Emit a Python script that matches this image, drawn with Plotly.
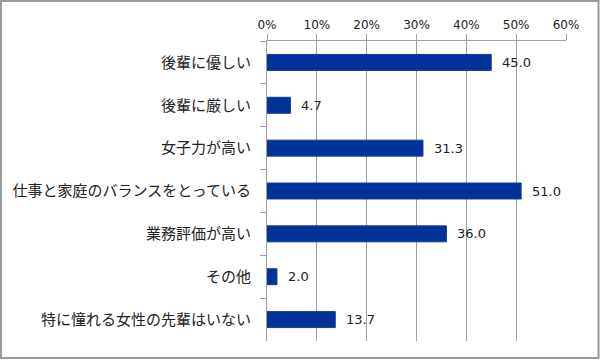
import plotly.graph_objects as go

categories = [
    "後輩に優しい",
    "後輩に厳しい",
    "女子力が高い",
    "仕事と家庭のバランスをとっている",
    "業務評価が高い",
    "その他",
    "特に憧れる女性の先輩はいない",
]
values = [45.0, 4.7, 31.3, 51.0, 36.0, 2.0, 13.7]
tick_values = [0, 10, 20, 30, 40, 50, 60]
tick_labels = ["0%", "10%", "20%", "30%", "40%", "50%", "60%"]

W, H = 600, 360
ML, MR, MT, MB = 267, 34, 41, 19
GRID = "#a0a0a0"
BAR = "#003399"

fig = go.Figure()
fig.add_trace(go.Bar(
    x=values, y=categories, orientation="h",
    marker=dict(color=BAR, line=dict(color="#1a3a9a", width=1)),
    hoverinfo="skip",
))

for c, v in zip(categories, values):
    fig.add_annotation(
        x=v, y=c, text=f"{v:.1f}", showarrow=False,
        xanchor="left", yanchor="middle", xshift=9,
        font=dict(family="DejaVu Sans", size=13, color="#222222"),
    )

pw = W - ML - MR
ph = H - MT - MB
fig.add_shape(
    type="rect", xref="paper", yref="paper",
    x0=(-ML + 1) / pw, x1=(pw + MR - 1.5) / pw,
    y0=(-MB + 2) / ph, y1=(ph + MT - 1) / ph,
    line=dict(color="#9a9a9a", width=2), fillcolor="rgba(0,0,0,0)", layer="below",
)

fig.update_layout(
    template="none",
    width=W, height=H,
    margin=dict(l=ML, r=MR, t=MT, b=MB, pad=0, autoexpand=False),
    paper_bgcolor="white", plot_bgcolor="white",
    bargap=0.627,
    showlegend=False,
    xaxis=dict(
        side="top", range=[0, 60], tickvals=tick_values, ticktext=tick_labels,
        showgrid=True, gridcolor=GRID, gridwidth=1,
        showline=True, linecolor=GRID, linewidth=1,
        ticks="outside", ticklen=6, tickcolor=GRID,
        tickfont=dict(family="DejaVu Sans", size=12, color="#222222"),
        zeroline=False, fixedrange=True, automargin=False,
    ),
    yaxis=dict(
        autorange="reversed", tickson="boundaries",
        showline=True, linecolor=GRID, linewidth=1,
        ticks="outside", ticklen=6, tickcolor=GRID,
        ticklabelstandoff=12,
        tickfont=dict(family="Noto Sans CJK JP", size=15, color="#222222"),
        showgrid=False, zeroline=False, fixedrange=True, automargin=False,
    ),
)

fig.write_html(
    "out.html",
    config={"displayModeBar": False},
    post_script="document.body.style.margin='0';document.body.style.padding='0';document.body.style.overflow='hidden';",
)
